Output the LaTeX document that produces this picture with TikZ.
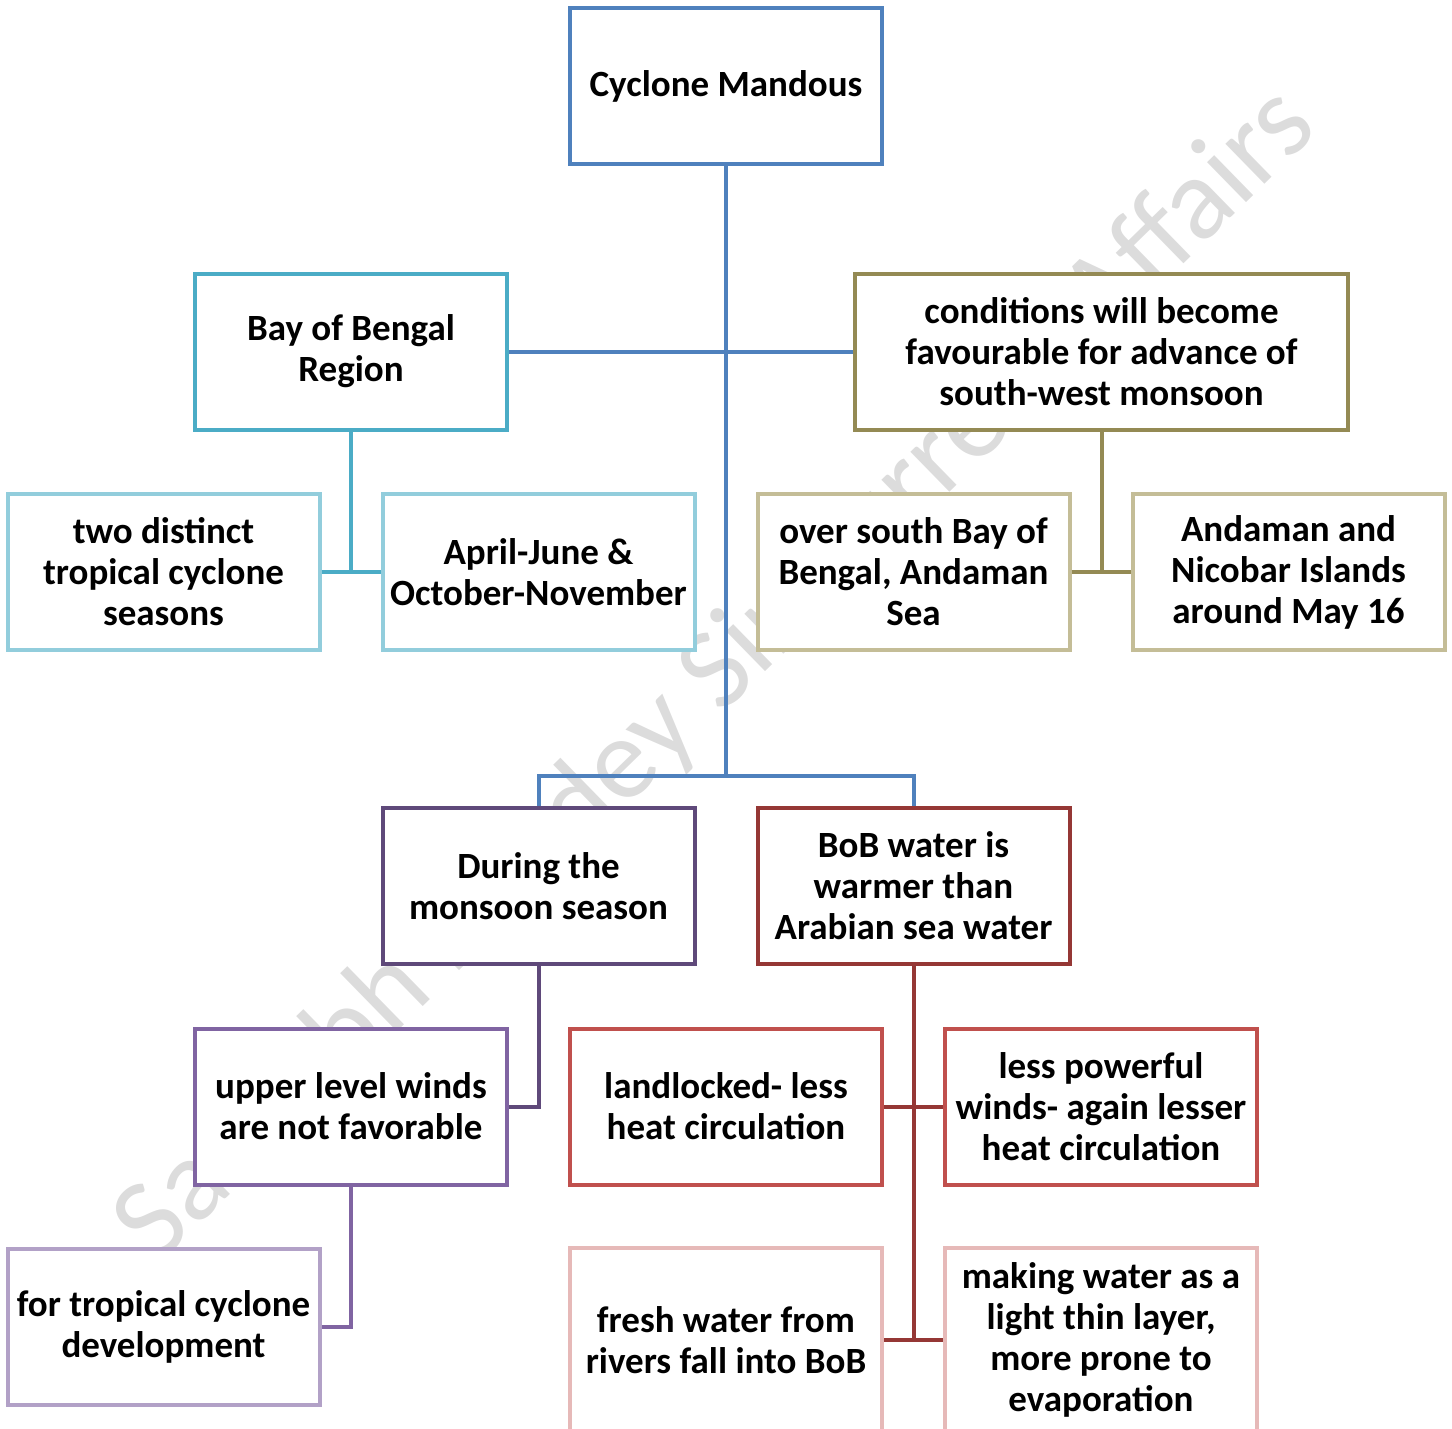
\documentclass[tikz,border=0pt]{standalone}
\usepackage{fontspec}
\setmainfont{Carlito}
\definecolor{cblue}{HTML}{4F81BD}
\definecolor{bayc}{HTML}{4BACC6}
\definecolor{bayl}{HTML}{92CDDC}
\definecolor{olivec}{HTML}{948A54}
\definecolor{tanc}{HTML}{C4BD97}
\definecolor{dpurple}{HTML}{5F497A}
\definecolor{purplec}{HTML}{8064A2}
\definecolor{lpurple}{HTML}{B2A1C7}
\definecolor{dred}{HTML}{953735}
\definecolor{redc}{HTML}{C0504D}
\definecolor{pinkc}{HTML}{E6B9B8}
\definecolor{wmark}{HTML}{DCDCDC}
\tikzset{
  box/.style={draw, line width=4pt, fill=white, minimum width=312pt, minimum height=156pt,
    inner sep=0pt, align=center, font=\bfseries\fontsize{37}{41}\selectfont},
  link/.style={line width=4pt},
  watermark/.style={text=wmark, font=\fontsize{117}{117}\selectfont, inner sep=0pt}
}
\begin{document}
\begin{tikzpicture}[x=1pt,y=-1pt]
\useasboundingbox (0,0) rectangle (1452,1429);
\clip (0,0) rectangle (1452,1429);
\node[watermark, rotate=44.3] (wm) at (717,676) {Saurabh Pandey Sir Current Affairs};
% nodes
\node[box, draw=cblue] (cm) at (726,86) {Cyclone Mandous};
\node[box, draw=bayc] (bay) at (351,351.5) {Bay of Bengal\\Region};
\node[box, draw=olivec, minimum width=493pt] (cond) at (1101.5,351.5) {conditions will become\\favourable for advance of\\south-west monsoon};
\node[box, draw=bayl] (two) at (163.5,572) {two distinct\\tropical cyclone\\seasons};
\node[box, draw=bayl] (april) at (538.5,572) {April-June \&\\October-November};
\node[box, draw=tanc] (over) at (913.5,572) {over south Bay of\\Bengal, Andaman\\Sea};
\node[box, draw=tanc] (anda) at (1288.5,572) {Andaman and\\Nicobar Islands\\around May 16};
\node[box, draw=dpurple] (during) at (538.5,886) {During the\\monsoon season};
\node[box, draw=dred] (bob) at (913.5,886) {BoB water is\\warmer than\\Arabian sea water};
\node[box, draw=purplec] (upper) at (351,1106.5) {upper level winds\\are not favorable};
\node[box, draw=redc] (land) at (726,1106.5) {landlocked- less\\heat circulation};
\node[box, draw=redc] (less) at (1101,1106.5) {less powerful\\winds- again lesser\\heat circulation};
\node[box, draw=lpurple] (fortrop) at (163.5,1326.5) {for tropical cyclone\\development};
\node[box, draw=pinkc, minimum height=184pt] (fresh) at (726,1340) {fresh water from\\rivers fall into BoB};
\node[box, draw=pinkc, minimum height=184pt] (making) at (1101,1340) {making water as a\\light thin layer,\\more prone to\\evaporation};
% connectors
\coordinate (j1) at (726,776);
\draw[link, cblue] (cm.south) -- (j1);
\draw[link, cblue] (bay.east) -- (cond.west);
\draw[link, cblue] (during.north) |- (j1) -| (bob.north);
\draw[link, bayc] (bay.south) -- (bay.south |- two.east);
\draw[link, bayc] (two.east) -- (april.west);
\draw[link, olivec] (cond.south) -- (cond.south |- over.east);
\draw[link, olivec] (over.east) -- (anda.west);
\draw[link, dpurple] (during.south) |- (upper.east);
\draw[link, purplec] (upper.south) |- (fortrop.east);
\draw[link, dred] (bob.south) -- (bob.south |- fresh.east);
\draw[link, dred] (land.east) -- (less.west);
\draw[link, dred] (fresh.east) -- (making.west);
\end{tikzpicture}
\end{document}
